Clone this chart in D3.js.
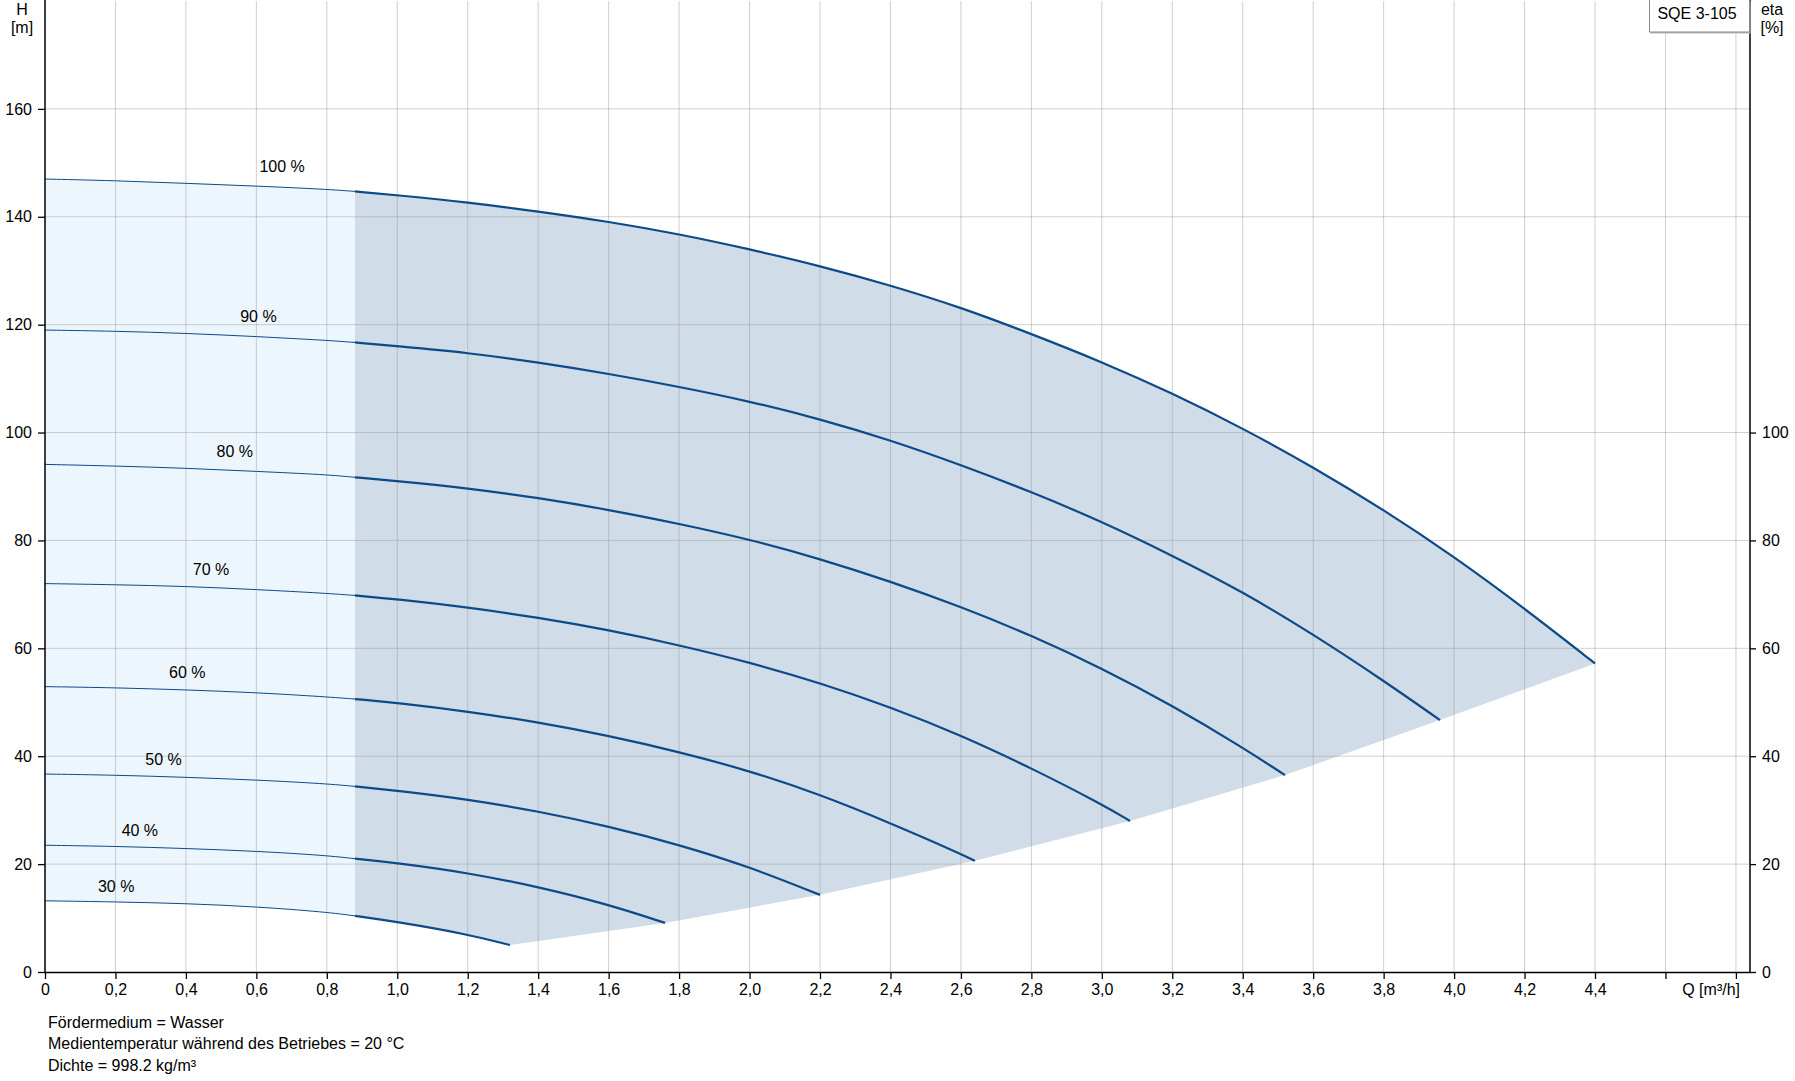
<!DOCTYPE html>
<html lang="de">
<head>
    <meta charset="utf-8">
    <title>SQE 3-105</title>
    <script src="https://cdn.jsdelivr.net/npm/d3@7"></script>
    <style>
        body { margin: 0; background: #fff; }
        svg text { font-family: "Liberation Sans", Arial, sans-serif; font-size: 16px; fill: #000; }
    </style>
</head>
<body>
<svg id="chart" width="1795" height="1081"></svg>
<script>
    // Drehzahl-Kurven (Beschriftung)
    var speedLabels = ["100 %", "90 %", "80 %", "70 %", "60 %", "50 %", "40 %", "30 %"];
    var speedFactor = [1.0, 0.9, 0.8, 0.7, 0.6, 0.5, 0.4, 0.3];

    // Q-H Kurven: [Q m3/h, H m]
    var curve100 = [[0,147.0],[0.2,146.7],[0.4,146.2],[0.6,145.7],[0.8,145.1],[0.88,144.7],[1.0,144.0],[1.2,142.7],[1.4,141.0],[1.6,139.1],[1.8,136.8],[2.0,134.0],[2.2,130.9],[2.4,127.3],[2.6,123.2],[2.8,118.3],[3.0,113.1],[3.2,107.3],[3.4,100.8],[3.6,93.6],[3.8,85.7],[4.0,77.0],[4.2,67.4],[4.4,57.2]];
    var curve90 = [[0,119.0],[0.2,118.8],[0.4,118.4],[0.6,117.8],[0.8,117.1],[0.88,116.7],[1.0,116.0],[1.2,114.8],[1.4,113.0],[1.6,110.9],[1.8,108.5],[2.0,105.8],[2.2,102.5],[2.4,98.6],[2.6,94.0],[2.8,89.0],[3.0,83.5],[3.2,77.2],[3.4,70.5],[3.6,62.6],[3.8,54.0],[3.96,46.7]];
    var curve80 = [[0,94.1],[0.2,93.8],[0.4,93.4],[0.6,92.8],[0.8,92.2],[0.88,91.7],[1.0,91.0],[1.2,89.7],[1.4,87.9],[1.6,85.7],[1.8,83.1],[2.0,80.2],[2.2,76.6],[2.4,72.4],[2.6,67.7],[2.8,62.4],[3.0,56.3],[3.2,49.4],[3.4,41.6],[3.52,36.5]];
    var curve70 = [[0,72.0],[0.2,71.8],[0.4,71.5],[0.6,70.9],[0.8,70.2],[0.88,69.8],[1.0,69.1],[1.2,67.6],[1.4,65.7],[1.6,63.4],[1.8,60.6],[2.0,57.4],[2.2,53.6],[2.4,49.1],[2.6,43.9],[2.8,37.8],[3.0,31.1],[3.08,28.0]];
    var curve60 = [[0,52.9],[0.2,52.7],[0.4,52.3],[0.6,51.8],[0.8,51.0],[0.88,50.6],[1.0,49.9],[1.2,48.3],[1.4,46.3],[1.6,43.8],[1.8,40.8],[2.0,37.3],[2.2,32.9],[2.4,27.6],[2.6,21.9],[2.64,20.6]];
    var curve50 = [[0,36.7],[0.2,36.5],[0.4,36.1],[0.6,35.6],[0.8,34.9],[0.88,34.4],[1.0,33.6],[1.2,32.0],[1.4,29.8],[1.6,27.0],[1.8,23.6],[2.0,19.5],[2.2,14.3]];
    var curve40 = [[0,23.5],[0.2,23.3],[0.4,22.9],[0.6,22.4],[0.8,21.6],[0.88,21.0],[1.0,20.2],[1.2,18.4],[1.4,15.8],[1.6,12.5],[1.76,9.1]];
    var curve30 = [[0,13.2],[0.2,13.0],[0.4,12.7],[0.6,12.1],[0.8,11.1],[0.88,10.4],[1.0,9.3],[1.2,7.0],[1.32,5.0]];
    var curves = [curve100, curve90, curve80, curve70, curve60, curve50, curve40, curve30];

    // Grenze zwischen hellem und dunklem Bereich (Q)
    var splitQ = 0.88;

    // Achsen
    var qTicks = [0,0.2,0.4,0.6,0.8,1.0,1.2,1.4,1.6,1.8,2.0,2.2,2.4,2.6,2.8,3.0,3.2,3.4,3.6,3.8,4.0,4.2,4.4,4.6,4.8];
    var qLabelMax = 4.4;
    var hTicks = [0,20,40,60,80,100,120,140,160];
    var etaTicks = [0,20,40,60,80,100];

    var notes = ["Fördermedium = Wasser", "Medientemperatur während des Betriebes = 20 °C", "Dichte = 998.2 kg/m³"];

    //画布
    var svg = d3.select("#chart");
    var plotLeft = 45, plotRight = 1750, plotTop = 1, plotBottom = 972;

    var x = d3.scaleLinear().domain([0, 4.84]).range([plotLeft, plotRight]);
    var y = d3.scaleLinear().domain([0, 180]).range([plotBottom, plotTop]);

    var blue = "#0c4a88";

    var line = d3.line()
            .x(function (d) { return x(d[0]); })
            .y(function (d) { return y(d[1]); })
            .curve(d3.curveBasis);

    // heller Bereich (Q < splitQ)
    var lightTop = curve100.filter(function (d) { return d[0] <= splitQ; });
    var lightBot = curve30.filter(function (d) { return d[0] <= splitQ; });
    svg.append("path")
            .attr("d", line(lightTop) + "L" + line(lightBot.slice().reverse()).slice(1) + "Z")
            .attr("fill", "#eef6fd");

    // dunkler Bereich
    var ends = curves.map(function (c) { return c[c.length - 1]; });
    var darkTop = curve100.filter(function (d) { return d[0] >= splitQ; });
    var darkBot = curve30.filter(function (d) { return d[0] >= splitQ; });
    var endPath = ends.slice(1).map(function (d) { return "L" + x(d[0]) + "," + y(d[1]); }).join("");
    svg.append("path")
            .attr("d", line(darkTop) + endPath + "L" + line(darkBot.slice().reverse()).slice(1) + "Z")
            .attr("fill", "#d0dce8");

    // Gitter
    var grid = svg.append("g").attr("class", "grid");
    grid.selectAll("line.v")
            .data(qTicks.filter(function (d) { return d > 0; }))
            .enter().append("line")
            .attr("x1", function (d) { return x(d); })
            .attr("x2", function (d) { return x(d); })
            .attr("y1", plotTop)
            .attr("y2", plotBottom)
            .attr("stroke", "rgba(150,150,150,0.45)")
            .attr("stroke-width", 1);
    grid.selectAll("line.h")
            .data(hTicks.filter(function (d) { return d > 0; }))
            .enter().append("line")
            .attr("x1", plotLeft)
            .attr("x2", plotRight)
            .attr("y1", function (d) { return y(d); })
            .attr("y2", function (d) { return y(d); })
            .attr("stroke", "rgba(150,150,150,0.45)")
            .attr("stroke-width", 1);

    // Kurven: dünn links, dick rechts
    curves.forEach(function (c, i) {
        svg.append("path")
                .attr("d", line(c.filter(function (d) { return d[0] <= splitQ; })))
                .attr("fill", "none")
                .attr("stroke", blue)
                .attr("stroke-width", 1);
        svg.append("path")
                .attr("d", line(c.filter(function (d) { return d[0] >= splitQ; })))
                .attr("fill", "none")
                .attr("stroke", blue)
                .attr("stroke-width", 2.2);

        // Beschriftung
        var end = c[c.length - 1][0];
        var lq = end * 0.153;
        var k = d3.bisector(function (d) { return d[0]; }).left(c, lq);
        var a = c[k - 1], b = c[k];
        var lh = a[1] + (b[1] - a[1]) * (lq - a[0]) / (b[0] - a[0]);
        svg.append("text")
                .attr("x", x(lq))
                .attr("y", y(lh) - (8 + 7 * speedFactor[i]))
                .attr("text-anchor", "middle")
                .text(speedLabels[i]);
    });

    // x-Achse
    var xAxis = d3.axisBottom(x)
            .tickValues(qTicks)
            .tickSize(7)
            .tickSizeOuter(0)
            .tickPadding(5)
            .tickFormat(function (d) {
                if (d > qLabelMax + 0.01) return "";
                return d === 0 ? "0" : d3.format(".1f")(d).replace(".", ",");
            });
    var gx = svg.append("g").attr("transform", "translate(0," + plotBottom + ")").call(xAxis);

    // linke Achse H
    var gy = svg.append("g").attr("transform", "translate(" + plotLeft + ",0)")
            .call(d3.axisLeft(y).tickValues(hTicks).tickSize(7).tickSizeOuter(0).tickPadding(6));

    // rechte Achse eta
    var gr = svg.append("g").attr("transform", "translate(" + plotRight + ",0)")
            .call(d3.axisRight(y).tickValues(etaTicks).tickSize(6).tickSizeOuter(0).tickPadding(6));
    gr.select(".domain").remove();
    svg.append("line")
            .attr("x1", plotRight).attr("x2", plotRight)
            .attr("y1", 0).attr("y2", plotBottom)
            .attr("stroke", "#000").attr("stroke-width", 1.5);
    gy.select(".domain").remove();
    svg.append("line")
            .attr("x1", plotLeft).attr("x2", plotLeft)
            .attr("y1", 0).attr("y2", plotBottom)
            .attr("stroke", "#000").attr("stroke-width", 1.5);
    gx.select(".domain").attr("stroke-width", 1.5);
    svg.selectAll(".tick line").attr("stroke-width", 1.3);

    // Achsentitel
    svg.append("text").attr("x", 22).attr("y", 15).attr("text-anchor", "middle").text("H");
    svg.append("text").attr("x", 22).attr("y", 33).attr("text-anchor", "middle").text("[m]");
    svg.append("text").attr("x", 1772).attr("y", 15).attr("text-anchor", "middle").text("eta");
    svg.append("text").attr("x", 1772).attr("y", 33).attr("text-anchor", "middle").text("[%]");
    svg.append("text").attr("x", 1740).attr("y", 995).attr("text-anchor", "end").text("Q [m³/h]");

    // Typ-Box
    svg.append("rect")
            .attr("x", 1650.5).attr("y", 1.5).attr("width", 100).attr("height", 32)
            .attr("fill", "#bbb");
    svg.append("rect")
            .attr("x", 1649.5).attr("y", -1).attr("width", 100).attr("height", 33)
            .attr("fill", "#fff").attr("stroke", "#8a8a8a").attr("stroke-width", 1);
    svg.append("text").attr("x", 1697).attr("y", 19).attr("text-anchor", "middle").text("SQE 3-105");

    // Hinweise
    svg.selectAll("text.note")
            .data(notes)
            .enter().append("text")
            .attr("class", "note")
            .attr("x", 48)
            .attr("y", function (d, i) { return 1027.5 + i * 21.5; })
            .text(function (d) { return d; });
</script>
</body>
</html>
